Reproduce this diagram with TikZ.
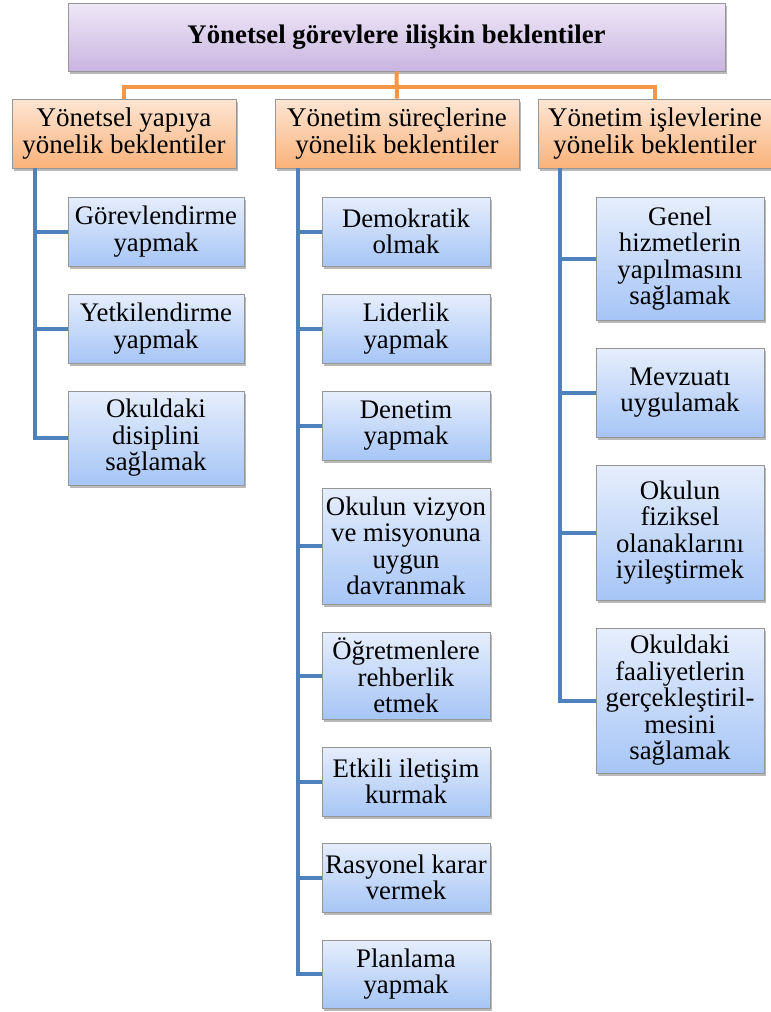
\documentclass[tikz,border=0pt]{standalone}
\usepackage{fontspec}
\setmainfont{Liberation Serif}
\usepackage{tikz}
\usetikzlibrary{positioning, shadows, calc}
\definecolor{topdark}{RGB}{201, 180, 224}
\definecolor{toplight}{RGB}{239, 232, 247}
\definecolor{headdark}{RGB}{249, 178, 122}
\definecolor{headlight}{RGB}{254, 230, 212}
\definecolor{itemdark}{RGB}{166, 197, 246}
\definecolor{itemlight}{RGB}{230, 238, 252}
\definecolor{boxedge}{RGB}{150, 150, 150}
\definecolor{spineblue}{RGB}{79, 129, 189}
\definecolor{forkorange}{RGB}{247, 150, 70}

\begin{document}
\begin{tikzpicture}[x=1pt, y=-1pt,
    box/.style={rectangle, draw=boxedge, line width=0.8pt, align=center,
                inner sep=0pt,
                drop shadow={opacity=0.55, shadow xshift=2pt, shadow yshift=-2.5pt}},
    topbox/.style={box, top color=toplight, bottom color=topdark,
                   minimum width=657pt, minimum height=68pt,
                   font=\rmfamily\fontsize{26.8}{28}\selectfont\bfseries},
    head/.style={box, top color=headlight, bottom color=headdark,
                 minimum height=69pt, font=\rmfamily\fontsize{27}{26.5}\selectfont},
    item/.style={box, top color=itemlight, bottom color=itemdark,
                 minimum width=168pt, font=\rmfamily\fontsize{26.8}{26.5}\selectfont},
    spine/.style={spineblue, line width=4pt},
    fork/.style={forkorange, line width=4pt},
]
\useasboundingbox (0,0) rectangle (771,1012);

%% ── top ─────────────────────────────────────────────────────────────────────
\node[topbox] (top) at (396.5,37) {Yönetsel görevlere ilişkin beklentiler};

%% ── headings ────────────────────────────────────────────────────────────────
\node[head, minimum width=224pt] (hA) at (124,133.5) {Yönetsel yapıya\\yönelik beklentiler};
\node[head, minimum width=244pt] (hB) at (397,133.5) {Yönetim süreçlerine\\yönelik beklentiler};
\node[head, minimum width=234pt] (hC) at (655,133.5) {Yönetim işlevlerine\\yönelik beklentiler};

%% ── column A ────────────────────────────────────────────────────────────────
\node[item, minimum width=176pt, minimum height=69pt]  (a1) at (156,231.5) {Görevlendirme\\yapmak};
\node[item, minimum width=176pt, minimum height=69pt]  (a2) at (156,328.5) {Yetkilendirme\\yapmak};
\node[item, minimum width=176pt, minimum height=94pt]  (a3) at (156,438)   {Okuldaki\\disiplini\\sağlamak};

%% ── column B ────────────────────────────────────────────────────────────────
\node[item, minimum height=69pt]  (b1) at (406,231.5) {Demokratik\\olmak};
\node[item, minimum height=69pt]  (b2) at (406,328.5) {Liderlik\\yapmak};
\node[item, minimum height=69pt]  (b3) at (406,425.5) {Denetim\\yapmak};
\node[item, minimum height=116pt] (b4) at (406,546)   {Okulun vizyon\\ve misyonuna\\uygun\\davranmak};
\node[item, minimum height=87pt]  (b5) at (406,675.5) {Öğretmenlere\\rehberlik\\etmek};
\node[item, minimum height=69pt]  (b6) at (406,781.5) {Etkili iletişim\\kurmak};
\node[item, minimum height=69pt]  (b7) at (406,877.5) {Rasyonel karar\\vermek};
\node[item, minimum height=68pt]  (b8) at (406,974)   {Planlama\\yapmak};

%% ── column C ────────────────────────────────────────────────────────────────
\node[item, minimum height=123pt] (c1) at (680,258.5) {Genel\\hizmetlerin\\yapılmasını\\sağlamak};
\node[item, minimum height=89pt]  (c2) at (680,392.5) {Mevzuatı\\uygulamak};
\node[item, minimum height=135pt] (c3) at (680,532.5) {Okulun\\fiziksel\\olanaklarını\\iyileştirmek};
\node[item, minimum height=145pt] (c4) at (680,700.5) {Okuldaki\\faaliyetlerin\\gerçekleştiril-\\mesini\\sağlamak};

%% ── connectors ──────────────────────────────────────────────────────────────
\coordinate (hub) at ($(top.south)+(0,16)$);
\draw[fork] (top.south) -- (hB.north);
\draw[fork] (hA.north) |- (hub) -| (hC.north);

\coordinate (sA) at (hA.south -| 35,0);
\coordinate (sB) at (hB.south -| 298,0);
\coordinate (sC) at (hC.south -| 560,0);
\draw[spine] (sA) |- (a3.west);
\draw[spine] (sB) |- (b8.west);
\draw[spine] (sC) |- (c4.west);
\foreach \n in {a1,a2} \draw[spine] (\n.west) -- (\n.west -| sA);
\foreach \n in {b1,b2,b3,b4,b5,b6,b7} \draw[spine] (\n.west) -- (\n.west -| sB);
\foreach \n in {c1,c2,c3} \draw[spine] (\n.west) -- (\n.west -| sC);

\end{tikzpicture}
\end{document}
